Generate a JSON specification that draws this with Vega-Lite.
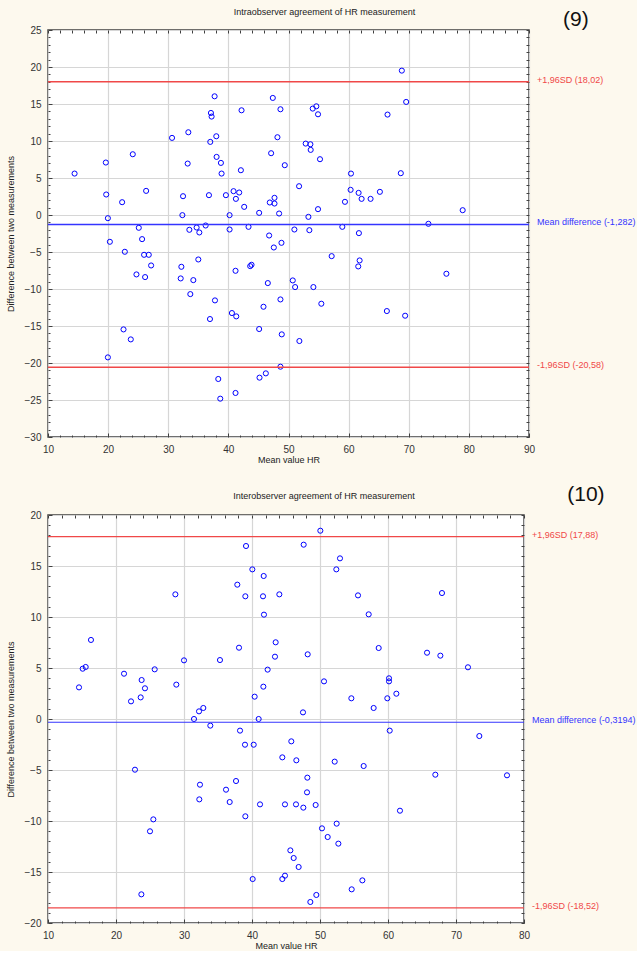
{
  "$schema": "https://vega.github.io/schema/vega-lite/v6.json",
  "background": "#fdf9ee",
  "padding": {"left": 5, "top": 7, "right": 0, "bottom": 0},
  "spacing": 18,
  "config": {
    "font": "Liberation Sans",
    "view": {"fill": "white", "stroke": "#404040", "strokeWidth": 1.5},
    "axis": {"labelFont": "Liberation Sans", "titleFont": "Liberation Sans", "tickColor": "#404040", "tickWidth": 1}
  },
  "datasets": {
    "intra": [
      {"m":14.42,"d":5.60},{"m":19.62,"d":7.09},{"m":19.68,"d":2.77},{"m":19.96,"d":-0.43},{"m":20.29,"d":-3.62},{"m":19.96,"d":-19.24},{"m":22.33,"d":1.73},{"m":22.78,"d":-4.97},{"m":22.56,"d":-15.46},{"m":23.77,"d":-16.81},
      {"m":24.10,"d":8.21},{"m":24.71,"d":-8.03},{"m":25.10,"d":-1.73},{"m":25.65,"d":-3.26},{"m":25.98,"d":-5.38},{"m":26.76,"d":-5.38},{"m":26.32,"d":3.26},{"m":26.15,"d":-8.39},{"m":27.15,"d":-6.82},{"m":30.63,"d":10.42},
      {"m":33.34,"d":11.18},{"m":33.23,"d":6.95},{"m":32.46,"d":2.54},{"m":32.35,"d":-0.02},{"m":32.18,"d":-7.00},{"m":32.07,"d":-8.57},{"m":34.17,"d":-8.80},{"m":33.67,"d":-10.69},{"m":33.51,"d":-2.00},{"m":34.72,"d":-1.69},
      {"m":35.17,"d":-2.36},{"m":35.00,"d":-6.01},{"m":36.22,"d":-1.42},{"m":36.99,"d":9.88},{"m":37.10,"d":13.79},{"m":37.21,"d":13.30},{"m":37.71,"d":16.04},{"m":37.99,"d":10.64},{"m":36.77,"d":2.68},{"m":38.04,"d":7.85},
      {"m":38.76,"d":7.04},{"m":38.87,"d":5.60},{"m":37.77,"d":-11.54},{"m":36.94,"d":-14.06},{"m":38.32,"d":-22.16},{"m":38.65,"d":-24.82},{"m":40.20,"d":-0.02},{"m":40.20,"d":-1.96},{"m":39.59,"d":2.68},{"m":40.86,"d":3.22},
      {"m":41.80,"d":3.04},{"m":41.25,"d":2.18},{"m":42.19,"d":14.15},{"m":42.08,"d":6.05},{"m":42.63,"d":1.10},{"m":41.19,"d":-7.54},{"m":40.59,"d":-13.25},{"m":41.31,"d":-13.70},{"m":41.19,"d":-24.05},{"m":43.35,"d":-1.60},
      {"m":43.85,"d":-6.73},{"m":43.63,"d":-6.91},{"m":45.12,"d":0.29},{"m":46.56,"d":-9.20},{"m":45.84,"d":-12.40},{"m":45.12,"d":-15.41},{"m":45.18,"d":-21.98},{"m":46.23,"d":-21.40},{"m":47.39,"d":15.82},{"m":47.11,"d":8.35},
      {"m":48.16,"d":10.51},{"m":48.66,"d":14.29},{"m":47.67,"d":2.32},{"m":46.89,"d":1.69},{"m":47.67,"d":1.55},{"m":48.44,"d":0.20},{"m":46.78,"d":-2.77},{"m":48.83,"d":-3.76},{"m":47.56,"d":-4.39},{"m":48.66,"d":-11.41},
      {"m":48.88,"d":-16.13},{"m":48.66,"d":-20.50},{"m":49.38,"d":6.73},{"m":51.76,"d":3.89},{"m":50.98,"d":-1.96},{"m":50.71,"d":-8.84},{"m":51.10,"d":-9.74},{"m":51.81,"d":-17.03},{"m":52.86,"d":9.65},{"m":53.64,"d":9.56},
      {"m":53.69,"d":8.80},{"m":54.03,"d":14.38},{"m":54.63,"d":14.69},{"m":54.91,"d":13.61},{"m":55.24,"d":7.54},{"m":54.91,"d":0.79},{"m":53.31,"d":-0.25},{"m":53.47,"d":-2.05},{"m":54.14,"d":-9.74},{"m":55.46,"d":-11.99},
      {"m":57.18,"d":-5.56},{"m":58.95,"d":-1.60},{"m":59.39,"d":1.78},{"m":60.39,"d":5.60},{"m":60.33,"d":3.40},{"m":61.66,"d":2.99},{"m":62.16,"d":2.18},{"m":63.65,"d":2.18},{"m":65.20,"d":3.13},{"m":61.71,"d":-2.45},
      {"m":61.83,"d":-6.14},{"m":61.60,"d":-6.95},{"m":66.47,"d":13.57},{"m":68.68,"d":5.65},{"m":68.85,"d":19.51},{"m":69.57,"d":15.28},{"m":66.36,"d":-12.98},{"m":69.40,"d":-13.61},{"m":73.27,"d":-1.19},{"m":76.26,"d":-7.94},
      {"m":78.97,"d":0.65}
    ],
    "inter": [
      {"m":14.56,"d":3.10},{"m":15.10,"d":4.93},{"m":15.54,"d":5.10},{"m":16.32,"d":7.75},{"m":21.18,"d":4.44},{"m":22.21,"d":1.73},{"m":22.79,"d":-4.97},{"m":23.63,"d":2.12},{"m":23.77,"d":3.82},{"m":24.26,"d":3.01},
      {"m":23.73,"d":-17.19},{"m":25.00,"d":-11.01},{"m":25.49,"d":-9.84},{"m":25.69,"d":4.87},{"m":28.73,"d":12.22},{"m":28.87,"d":3.37},{"m":30.00,"d":5.75},{"m":31.47,"d":0.00},{"m":32.21,"d":0.75},{"m":32.84,"d":1.08},
      {"m":32.35,"d":-6.44},{"m":32.25,"d":-7.88},{"m":33.87,"d":-0.65},{"m":35.29,"d":5.78},{"m":36.18,"d":-6.93},{"m":36.72,"d":-8.14},{"m":37.65,"d":-6.08},{"m":38.09,"d":6.99},{"m":37.84,"d":13.17},{"m":39.12,"d":16.96},
      {"m":39.02,"d":12.03},{"m":38.24,"d":-1.14},{"m":38.97,"d":-2.52},{"m":40.25,"d":-2.52},{"m":39.02,"d":-9.54},{"m":40.05,"d":14.67},{"m":41.72,"d":14.02},{"m":41.62,"d":12.03},{"m":41.76,"d":10.23},{"m":40.39,"d":2.19},
      {"m":41.67,"d":3.17},{"m":42.30,"d":4.84},{"m":40.98,"d":0.00},{"m":43.48,"d":7.52},{"m":43.38,"d":6.11},{"m":44.02,"d":12.22},{"m":41.18,"d":-8.37},{"m":40.10,"d":-15.69},{"m":44.46,"d":-3.76},{"m":45.78,"d":-2.19},
      {"m":46.52,"d":-4.05},{"m":44.85,"d":-8.37},{"m":46.47,"d":-8.37},{"m":45.64,"d":-12.88},{"m":46.13,"d":-13.63},{"m":46.86,"d":-14.51},{"m":44.85,"d":-15.36},{"m":44.46,"d":-15.69},{"m":47.60,"d":17.09},{"m":48.19,"d":6.34},
      {"m":47.50,"d":0.65},{"m":48.14,"d":-5.75},{"m":48.09,"d":-7.19},{"m":47.55,"d":-8.69},{"m":49.36,"d":-8.43},{"m":50.05,"d":18.46},{"m":50.59,"d":3.69},{"m":50.29,"d":-10.72},{"m":51.13,"d":-11.57},{"m":49.46,"d":-17.25},
      {"m":48.58,"d":-17.94},{"m":52.94,"d":15.75},{"m":52.40,"d":14.67},{"m":52.16,"d":-4.18},{"m":52.45,"d":-10.26},{"m":52.70,"d":-12.22},{"m":55.59,"d":12.12},{"m":54.61,"d":2.03},{"m":54.66,"d":-16.70},{"m":56.23,"d":-15.82},
      {"m":56.42,"d":-4.61},{"m":57.16,"d":10.26},{"m":58.63,"d":6.96},{"m":57.89,"d":1.08},{"m":59.90,"d":2.03},{"m":60.15,"d":3.99},{"m":60.15,"d":3.69},{"m":61.23,"d":2.48},{"m":60.25,"d":-1.14},{"m":61.76,"d":-8.99},
      {"m":65.74,"d":6.50},{"m":67.70,"d":6.21},{"m":67.94,"d":12.35},{"m":66.96,"d":-5.46},{"m":71.76,"d":5.07},{"m":73.43,"d":-1.67},{"m":77.50,"d":-5.52}
    ],
    "intraLines": [
      {"v": 18.02, "kind": "sd", "label": "+1,96SD (18,02)"},
      {"v": -1.282, "kind": "mean", "label": "Mean difference (-1,282)"},
      {"v": -20.58, "kind": "sd", "label": "-1,96SD (-20,58)"}
    ],
    "interLines": [
      {"v": 17.88, "kind": "sd", "label": "+1,96SD (17,88)"},
      {"v": -0.3194, "kind": "mean", "label": "Mean difference (-0,3194)"},
      {"v": -18.52, "kind": "sd", "label": "-1,96SD (-18,52)"}
    ]
  },
  "vconcat": [
    {
      "width": 481,
      "height": 407,
      "title": {"text": "Intraobserver agreement of HR measurement", "fontSize": 9, "fontWeight": "normal", "color": "#222222", "anchor": "middle", "frame": "group", "dx": 36, "offset": -8},
      "resolve": {"axis": {"x": "independent", "y": "independent"}},
      "layer": [
        {
          "data": {"name": "intra"},
          "mark": {"type": "point", "shape": "circle", "filled": false, "color": "#0000ff", "size": 26, "strokeWidth": 1, "opacity": 1},
          "encoding": {
            "x": {"field": "m", "type": "quantitative", "scale": {"domain": [10, 90], "nice": false, "zero": false},
              "axis": {"orient": "bottom", "values": [10,20,30,40,50,60,70,80,90], "grid": true, "gridColor": "#d6d6d6", "gridWidth": 1.2, "ticks": true, "tickSize": -4, "labelPadding": 11, "labelFontSize": 10, "labelColor": "#333333", "labelFlush": false, "labelOverlap": false, "domain": false, "title": "Mean value HR", "titleFontSize": 9, "titleFontWeight": "normal", "titleColor": "#222222", "titlePadding": 1}},
            "y": {"field": "d", "type": "quantitative", "scale": {"domain": [-30, 25], "nice": false, "zero": false},
              "axis": {"orient": "left", "values": [-30,-25,-20,-15,-10,-5,0,5,10,15,20,25], "grid": true, "gridColor": "#d6d6d6", "gridWidth": 1.2, "ticks": true, "tickSize": -4, "labelPadding": 11, "labelFontSize": 10, "labelColor": "#333333", "labelFlush": false, "labelOverlap": false, "domain": false, "title": "Difference between two measurements", "titleFontSize": 9, "titleFontWeight": "normal", "titleColor": "#222222", "titlePadding": 9}}
          }
        },
        {
          "data": {"name": "intraLines"},
          "mark": {"type": "rule", "strokeWidth": 1.5},
          "encoding": {
            "y": {"field": "v", "type": "quantitative", "axis": null},
            "color": {"field": "kind", "type": "nominal", "scale": {"domain": ["sd", "mean"], "range": ["#f04848", "#3434ff"]}, "legend": null}
          }
        },
        {
          "data": {"name": "intraLines"},
          "mark": {"type": "text", "align": "left", "baseline": "middle", "dx": 8, "dy": -2, "fontSize": 9},
          "encoding": {
            "x": {"datum": 90, "type": "quantitative", "axis": {"orient": "bottom", "values": [12,14,16,18,22,24,26,28,32,34,36,38,42,44,46,48,52,54,56,58,62,64,66,68,72,74,76,78,82,84,86,88], "ticks": true, "tickSize": -2, "labels": false, "grid": false, "domain": false, "title": null}},
            "y": {"field": "v", "type": "quantitative", "axis": {"orient": "left", "values": [-29,-28,-27,-26,-24,-23,-22,-21,-19,-18,-17,-16,-14,-13,-12,-11,-9,-8,-7,-6,-4,-3,-2,-1,1,2,3,4,6,7,8,9,11,12,13,14,16,17,18,19,21,22,23,24], "ticks": true, "tickSize": -2, "labels": false, "grid": false, "domain": false, "title": null}},
            "text": {"field": "label"},
            "color": {"field": "kind", "type": "nominal", "scale": {"domain": ["sd", "mean"], "range": ["#f04848", "#3434ff"]}, "legend": null}
          }
        },
        {
          "data": {"values": [{"t": "(9)"}]},
          "mark": {"type": "text", "fontSize": 21, "color": "#111111", "align": "center", "baseline": "middle"},
          "encoding": {
            "x": {"datum": 97.8, "type": "quantitative", "axis": {"orient": "top", "values": [10,12,14,16,18,20,22,24,26,28,30,32,34,36,38,40,42,44,46,48,50,52,54,56,58,60,62,64,66,68,70,72,74,76,78,80,82,84,86,88,90], "ticks": true, "tickSize": -3, "labels": false, "grid": false, "domain": false, "title": null}},
            "y": {"datum": 26.35, "type": "quantitative", "axis": {"orient": "right", "values": [-30,-29,-28,-27,-26,-25,-24,-23,-22,-21,-20,-19,-18,-17,-16,-15,-14,-13,-12,-11,-10,-9,-8,-7,-6,-5,-4,-3,-2,-1,0,1,2,3,4,5,6,7,8,9,10,11,12,13,14,15,16,17,18,19,20,21,22,23,24,25], "ticks": true, "tickSize": -3, "labels": false, "grid": false, "domain": false, "title": null}},
            "text": {"field": "t"}
          }
        }
      ]
    },
    {
      "width": 476,
      "height": 408,
      "title": {"text": "Interobserver agreement of HR measurement", "fontSize": 9, "fontWeight": "normal", "color": "#222222", "anchor": "middle", "frame": "group", "dx": 38, "offset": -17},
      "resolve": {"axis": {"x": "independent", "y": "independent"}},
      "layer": [
        {
          "data": {"name": "inter"},
          "mark": {"type": "point", "shape": "circle", "filled": false, "color": "#0000ff", "size": 26, "strokeWidth": 1, "opacity": 1},
          "encoding": {
            "x": {"field": "m", "type": "quantitative", "scale": {"domain": [10, 80], "nice": false, "zero": false},
              "axis": {"orient": "bottom", "values": [10,20,30,40,50,60,70,80], "grid": true, "gridColor": "#d6d6d6", "gridWidth": 1.2, "ticks": true, "tickSize": -4, "labelPadding": 11, "labelFontSize": 10, "labelColor": "#333333", "labelFlush": false, "labelOverlap": false, "domain": false, "title": "Mean value HR", "titleFontSize": 9, "titleFontWeight": "normal", "titleColor": "#222222", "titlePadding": 1}},
            "y": {"field": "d", "type": "quantitative", "scale": {"domain": [-20, 20], "nice": false, "zero": false},
              "axis": {"orient": "left", "values": [-20,-15,-10,-5,0,5,10,15,20], "grid": true, "gridColor": "#d6d6d6", "gridWidth": 1.2, "ticks": true, "tickSize": -4, "labelPadding": 11, "labelFontSize": 10, "labelColor": "#333333", "labelFlush": false, "labelOverlap": false, "domain": false, "title": "Difference between two measurements", "titleFontSize": 9, "titleFontWeight": "normal", "titleColor": "#222222", "titlePadding": 9}}
          }
        },
        {
          "data": {"name": "interLines"},
          "mark": {"type": "rule", "strokeWidth": 1.2},
          "encoding": {
            "y": {"field": "v", "type": "quantitative", "axis": null},
            "color": {"field": "kind", "type": "nominal", "scale": {"domain": ["sd", "mean"], "range": ["#ff1a1a", "#1a1aff"]}, "legend": null}
          }
        },
        {
          "data": {"name": "interLines"},
          "mark": {"type": "text", "align": "left", "baseline": "middle", "dx": 8, "dy": -2, "fontSize": 9},
          "encoding": {
            "x": {"datum": 80, "type": "quantitative", "axis": {"orient": "bottom", "values": [12,14,16,18,22,24,26,28,32,34,36,38,42,44,46,48,52,54,56,58,62,64,66,68,72,74,76,78], "ticks": true, "tickSize": -2, "labels": false, "grid": false, "domain": false, "title": null}},
            "y": {"field": "v", "type": "quantitative", "axis": {"orient": "left", "values": [-19,-18,-17,-16,-14,-13,-12,-11,-9,-8,-7,-6,-4,-3,-2,-1,1,2,3,4,6,7,8,9,11,12,13,14,16,17,18,19], "ticks": true, "tickSize": -2, "labels": false, "grid": false, "domain": false, "title": null}},
            "text": {"field": "label"},
            "color": {"field": "kind", "type": "nominal", "scale": {"domain": ["sd", "mean"], "range": ["#ff1a1a", "#1a1aff"]}, "legend": null}
          }
        },
        {
          "data": {"values": [{"t": "(10)"}]},
          "mark": {"type": "text", "fontSize": 21, "color": "#111111", "align": "center", "baseline": "middle"},
          "encoding": {
            "x": {"datum": 89.1, "type": "quantitative", "axis": {"orient": "top", "values": [10,12,14,16,18,20,22,24,26,28,30,32,34,36,38,40,42,44,46,48,50,52,54,56,58,60,62,64,66,68,70,72,74,76,78,80], "ticks": true, "tickSize": -3, "labels": false, "grid": false, "domain": false, "title": null}},
            "y": {"datum": 21.96, "type": "quantitative", "axis": {"orient": "right", "values": [-20,-19,-18,-17,-16,-15,-14,-13,-12,-11,-10,-9,-8,-7,-6,-5,-4,-3,-2,-1,0,1,2,3,4,5,6,7,8,9,10,11,12,13,14,15,16,17,18,19,20], "ticks": true, "tickSize": -3, "labels": false, "grid": false, "domain": false, "title": null}},
            "text": {"field": "t"}
          }
        }
      ]
    }
  ]
}
